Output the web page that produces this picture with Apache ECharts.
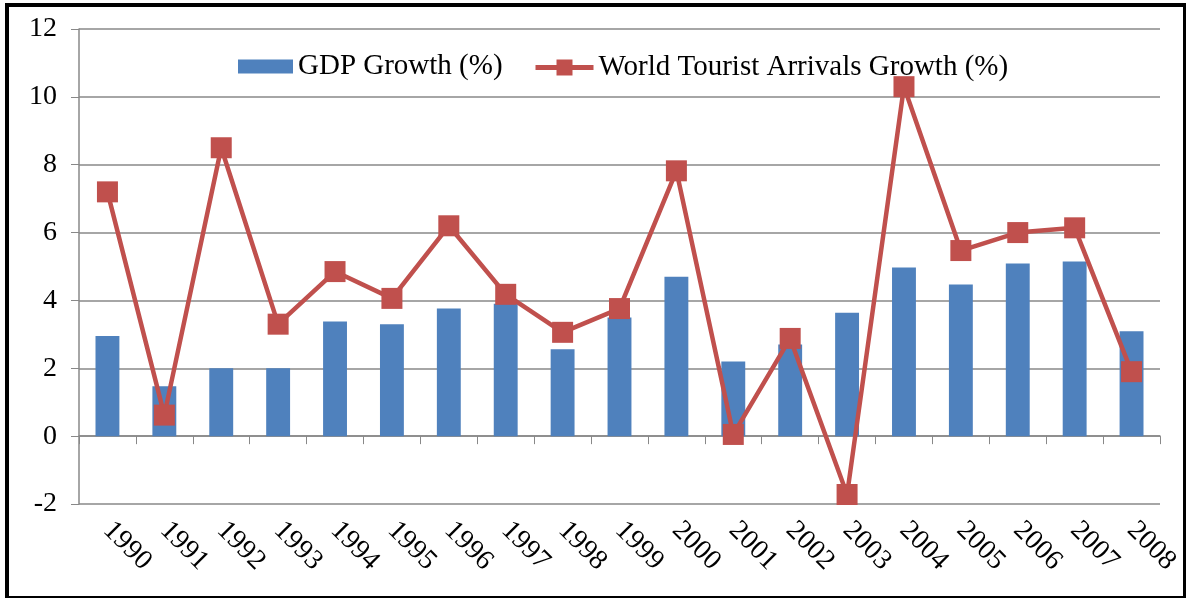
<!DOCTYPE html>
<html>
<head>
<meta charset="utf-8">
<script src="https://cdn.jsdelivr.net/npm/echarts@6/dist/echarts.min.js"></script>
<style>
  html, body { margin: 0; padding: 0; background: #fff; }
  #frame {
    position: absolute; left: 5px; top: 3px; width: 1174px; height: 589px;
    border: 4px solid #000; background: #fff;
  }
  #chart { position: absolute; left: -9px; top: -7px; width: 1186px; height: 598px; }
</style>
</head>
<body>
<div id="frame"><div id="chart"></div></div>
<script>
var years = ['1990', '1991', '1992', '1993', '1994', '1995', '1996', '1997', '1998', '1999',
  '2000', '2001', '2002', '2003', '2004', '2005', '2006', '2007', '2008'];
var gdpGrowth = [2.95, 1.47, 2.0, 2.0, 3.38, 3.3, 3.76, 3.9, 2.56, 3.5,
  4.7, 2.2, 2.7, 3.64, 4.97, 4.47, 5.09, 5.15, 3.09];
var tourismGrowth = [7.2, 0.62, 8.5, 3.3, 4.85, 4.06, 6.2, 4.18, 3.06, 3.76,
  7.82, 0.05, 2.88, -1.72, 10.3, 5.47, 6.0, 6.14, 1.9];

var chart = echarts.init(document.getElementById('chart'));
var font = '"Liberation Serif", "DejaVu Serif", serif';
var legendText = { fontFamily: font, fontSize: 29, color: '#000' };

var option = {
  backgroundColor: 'transparent',
  textStyle: { fontFamily: font, color: '#000' },
  grid: { left: 79, right: 26, top: 29, bottom: 94 },
  // two legends so each icon can have its own size
  legend: [{
    top: 47,
    left: 233,
    itemWidth: 55,
    itemHeight: 14,
    textStyle: legendText,
    data: [{ name: 'GDP Growth (%)', icon: 'rect' }]
  }, {
    top: 48,
    left: 528,
    itemWidth: 58,
    itemHeight: 20,
    lineStyle: { width: 5 },
    textStyle: legendText,
    data: ['World Tourist Arrivals Growth (%)']
  }],
  xAxis: [{
    type: 'category',
    data: years,
    axisLine: { onZero: true, lineStyle: { color: '#888', width: 1.5 } },
    axisTick: { show: true, length: 8, lineStyle: { color: '#888' } },
    axisLabel: { show: false },
    splitLine: { show: false }
  }, {
    type: 'category',
    data: years,
    position: 'bottom',
    axisLine: { show: false, onZero: false },
    axisTick: { show: false },
    axisLabel: {
      rotate: -45,
      margin: 22,
      fontSize: 28,
      fontFamily: font,
      color: '#000'
    }
  }],
  yAxis: {
    type: 'value',
    min: -2,
    max: 12,
    interval: 2,
    axisLine: { show: true, lineStyle: { color: '#888', width: 1.5 } },
    axisTick: { show: true, length: 8, inside: false, lineStyle: { color: '#888' } },
    axisLabel: { fontSize: 28, fontFamily: font, color: '#000', margin: 22 },
    splitLine: { lineStyle: { color: '#888', width: 1.5 } }
  },
  series: [{
    name: 'GDP Growth (%)',
    type: 'bar',
    data: gdpGrowth,
    barWidth: '42%',
    itemStyle: { color: '#4F81BD' }
  }, {
    name: 'World Tourist Arrivals Growth (%)',
    type: 'line',
    data: tourismGrowth,
    symbol: 'rect',
    symbolSize: 21,
    lineStyle: { color: '#C0504D', width: 4.5 },
    itemStyle: { color: '#C0504D' }
  }]
};

chart.setOption(option);
</script>
</body>
</html>
